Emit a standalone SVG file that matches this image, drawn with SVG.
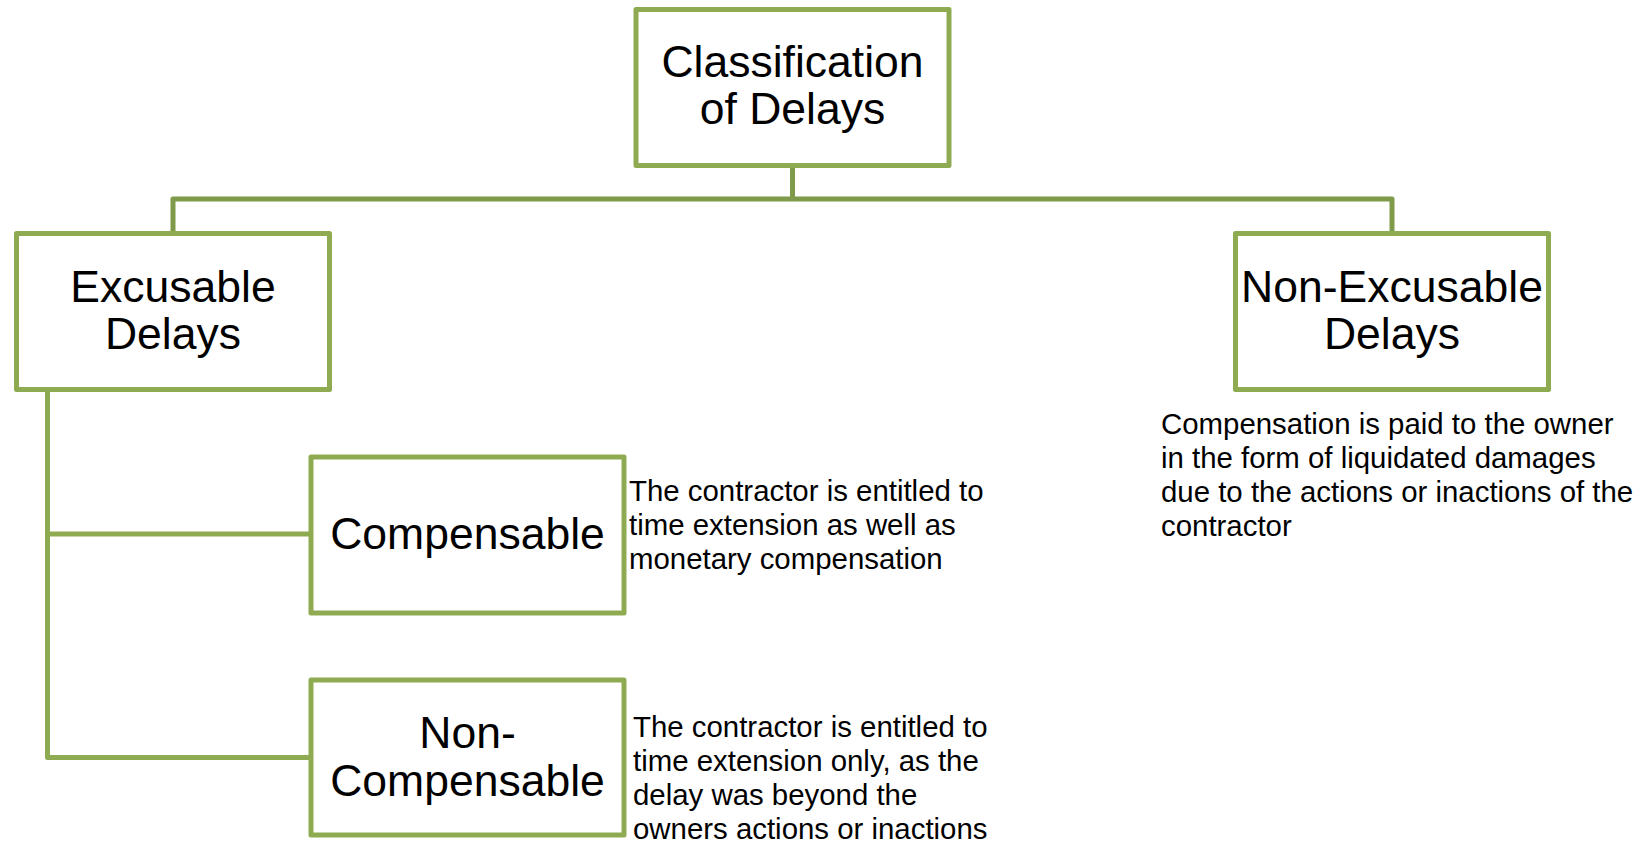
<svg xmlns="http://www.w3.org/2000/svg" width="1650" height="843" viewBox="0 0 1650 843">
  <style>
    .box { fill: #ffffff; stroke: #8FAB52; stroke-width: 5; stroke-linejoin: round; }
    .link { fill: none; stroke: #8FAB52; stroke-width: 5; stroke-linejoin: round; }
    .link-top { stroke: #7F9A4A; }
    .label { font-family: "Liberation Sans", Arial, Helvetica, sans-serif; font-size: 44.5px; fill: #000000; text-anchor: middle; }
    .note { font-family: "Liberation Sans", Arial, Helvetica, sans-serif; font-size: 29.4px; fill: #000000; }
  </style>

  <rect width="1650" height="843" fill="#ffffff"/>

  <!-- connectors -->
  <g id="connectors">
    <path class="link link-top" d="M792.5 165.5 V199 M173 233.5 V199 H1392 V233.5"/>
    <path class="link" d="M47.5 389.5 V757.5 H311 M47.5 534 H311"/>
  </g>

  <!-- root -->
  <g id="node-classification">
    <rect class="box" x="636" y="9.5" width="313" height="156"/>
    <text class="label" x="792.5" y="77">Classification</text>
    <text class="label" x="792.5" y="124">of Delays</text>
  </g>

  <!-- first level -->
  <g id="node-excusable">
    <rect class="box" x="16.5" y="233.5" width="313" height="156"/>
    <text class="label" x="173" y="302">Excusable</text>
    <text class="label" x="173" y="349">Delays</text>
  </g>

  <g id="node-non-excusable">
    <rect class="box" x="1235.5" y="233.5" width="313" height="156"/>
    <text class="label" x="1392" y="302">Non-Excusable</text>
    <text class="label" x="1392" y="349">Delays</text>
    <text class="note" x="1161">
      <tspan x="1161" y="434">Compensation is paid to the owner</tspan>
      <tspan x="1161" y="468">in the form of liquidated damages</tspan>
      <tspan x="1161" y="502">due to the actions or inactions of the</tspan>
      <tspan x="1161" y="536">contractor</tspan>
    </text>
  </g>

  <!-- second level -->
  <g id="node-compensable">
    <rect class="box" x="311" y="457" width="313" height="156"/>
    <text class="label" x="467.5" y="549">Compensable</text>
    <text class="note" x="629">
      <tspan x="629" y="501">The contractor is entitled to</tspan>
      <tspan x="629" y="535">time extension as well as</tspan>
      <tspan x="629" y="569">monetary compensation</tspan>
    </text>
  </g>

  <g id="node-non-compensable">
    <rect class="box" x="311" y="680" width="313" height="155"/>
    <text class="label" x="467.5" y="748">Non-</text>
    <text class="label" x="467.5" y="795.5">Compensable</text>
    <text class="note" x="633">
      <tspan x="633" y="737">The contractor is entitled to</tspan>
      <tspan x="633" y="771">time extension only, as the</tspan>
      <tspan x="633" y="805">delay was beyond the</tspan>
      <tspan x="633" y="839">owners actions or inactions</tspan>
    </text>
  </g>
</svg>
